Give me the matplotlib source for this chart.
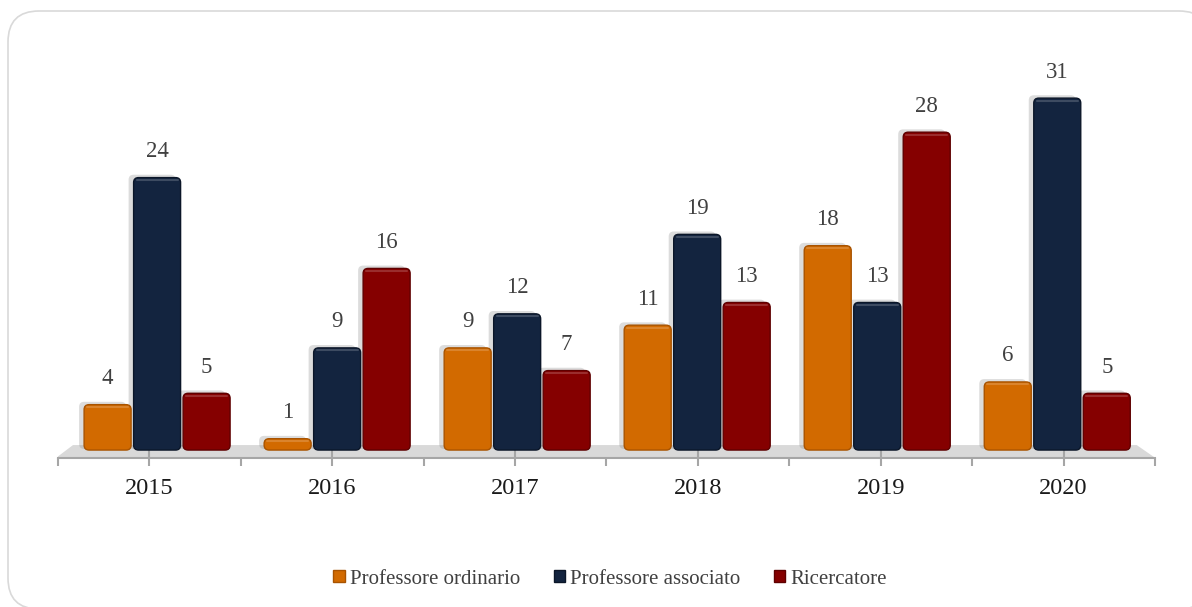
import matplotlib
matplotlib.use("Agg")
import matplotlib.pyplot as plt
from matplotlib.patches import FancyBboxPatch, Polygon
import numpy as np

years = ["2015", "2016", "2017", "2018", "2019", "2020"]
series_names = ["Professore ordinario", "Professore associato", "Ricercatore"]
ordinario = [4, 1, 9, 11, 18, 6]
associato = [24, 9, 12, 19, 13, 31]
ricercatore = [5, 16, 7, 13, 28, 5]
colors = ["#D26A00", "#13243F", "#850000"]
edge_colors = ["#A85300", "#0B1628", "#5E0000"]

plt.rcParams["font.family"] = ["Liberation Serif", "DejaVu Serif"]

W, H = 1192, 607
fig = plt.figure(figsize=(W / 100, H / 100), dpi=100)

# rounded outer frame (runs out at the right and bottom edges)
frame = FancyBboxPatch((8 / W, 1 - 609 / H), (1210 - 8) / W, (609 - 11) / H,
                       boxstyle="round,pad=0,rounding_size=0.026", transform=fig.transFigure,
                       facecolor="white", edgecolor="#D9D9D9", linewidth=1.2,
                       mutation_aspect=W / H, zorder=-5)
fig.patches.append(frame)

ax = fig.add_axes([58 / W, (607 - 458) / H, (1155 - 58) / W, (458 - 30) / H])
ax.set_zorder(2)
ax.set_facecolor("none")
ax.set_xlim(-0.5, 5.5)
ax.set_ylim(-0.7, 37)

px_x = 6.0 / (1155 - 58)
px_y = 37.7 / (458 - 30)
aspect = px_y / px_x

floor = Polygon([(-0.505, -0.62), (5.495, -0.62), (5.40, 0.44), (-0.418, 0.44)],
                closed=True, facecolor="#D9D9D9", edgecolor="none", zorder=1)
ax.add_patch(floor)

bw = 47 * px_x
step = 49.5 * px_x
data = [ordinario, associato, ricercatore]
x = np.arange(len(years))
# slight perspective: bar groups sit on the (narrower) back of the floor
gx = x * (180.0 / 182.8) + 0.042
r = 5 * px_x
for k, vals in enumerate(data):
    for i, v in enumerate(vals):
        cx = gx[i] + (k - 1) * step
        x0 = cx - bw / 2
        sh = FancyBboxPatch((x0 - 5 * px_x, 0.1), bw, v + 0.15,
                            boxstyle=f"round,pad=0,rounding_size={r}", mutation_aspect=aspect,
                            facecolor="#8C8C8C", edgecolor="none", alpha=0.3, zorder=2)
        ax.add_patch(sh)
        bar = FancyBboxPatch((x0, 0), bw, v,
                             boxstyle=f"round,pad=0,rounding_size={r}", mutation_aspect=aspect,
                             facecolor=colors[k], edgecolor=edge_colors[k], linewidth=1.0, zorder=3)
        ax.add_patch(bar)
        ax.plot([x0 + 3 * px_x, x0 + bw - 3 * px_x], [v - 2.5 * px_y, v - 2.5 * px_y],
                color="white", alpha=0.18, linewidth=1.5, zorder=4, solid_capstyle="round")
        ax.annotate(str(v), xy=(cx, v), xytext=(0, 26), textcoords="offset pixels",
                    ha="center", va="center", fontsize=16.5, color="#404040", zorder=5)

for s in ["top", "right", "left"]:
    ax.spines[s].set_visible(False)
ax.spines["bottom"].set_color("#A6A6A6")
ax.spines["bottom"].set_linewidth(1.5)
ax.set_yticks([])
ax.set_xticks(np.arange(-0.5, 6.0, 1.0))
ax.set_xticklabels([])
ax.tick_params(axis="x", which="major", length=6, width=1.5, color="#A6A6A6", direction="out")
ax.set_xticks(x, minor=True)
ax.tick_params(axis="x", which="minor", length=12, width=1.5, color="#A6A6A6", direction="inout")

for i, yl in enumerate(years):
    ax.annotate(yl, xy=(x[i], 0), xycoords=("data", "axes fraction"), xytext=(0, -31),
                textcoords="offset pixels", ha="center", va="center", fontsize=17.5, color="#1A1A1A")

handles = [plt.Rectangle((0, 0), 1, 1, facecolor=c, edgecolor=e, linewidth=1) for c, e in zip(colors, edge_colors)]
leg = fig.legend(handles, series_names, loc="center", bbox_to_anchor=(0.512, 1 - 579 / H), ncol=3,
                 frameon=False, fontsize=15, handlelength=0.55, handleheight=0.55,
                 handletextpad=0.25, columnspacing=1.6, labelcolor="#404040")

fig.savefig("out.png", dpi=100)
